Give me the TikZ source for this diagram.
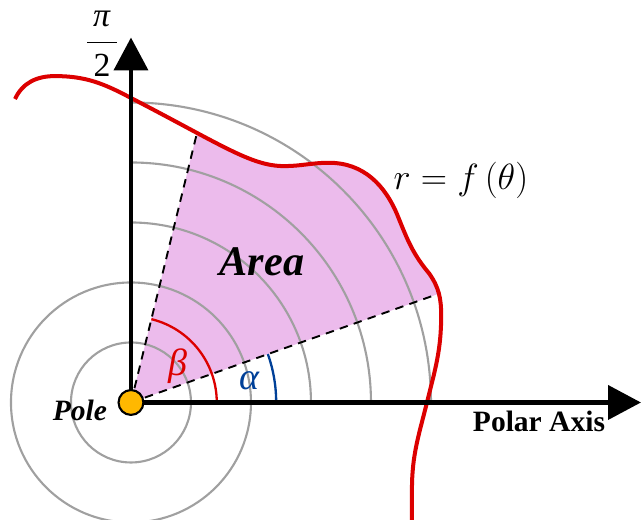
\documentclass[tikz,border=0pt]{standalone}
\usepackage{fontspec}
\setmainfont{Liberation Serif}
\usepackage{tikz}
\definecolor{curvered}{RGB}{220, 0, 0}
\definecolor{arcblue}{RGB}{0, 64, 152}
\definecolor{ringgray}{RGB}{160, 160, 160}
\definecolor{areapink}{RGB}{236, 187, 236}
\definecolor{polegold}{RGB}{255, 184, 0}
\usetikzlibrary{arrows.meta, calc, intersections}
\newcommand{\curvepath}{(-1.933,5.058) to[out=65, in=180] (-1.27,5.44) to[out=0, in=152] (0,5.075)
    .. controls (1.5,4.3) and (2.0,3.94) .. (2.55,3.94)
    to[out=0, in=180] (3.3,3.995) to[out=0, in=112] (4.45,3.1)
    to[out=-68, in=130] (4.97,2.15) to[out=-55, in=90] (5.17,1.45)
    to[out=-90, in=76] (4.933,0) to[out=-104, in=90] (4.683,-1.45) -- (4.683,-2.1)}

\begin{document}
\begin{tikzpicture}[
    axis/.style={line width=2.2pt, -{Triangle[length=15.6pt, width=16pt]}},
    ringline/.style={draw=ringgray, line width=1pt},
    ray/.style={dash pattern=on 4pt off 3pt, line width=0.9pt},
    tag/.style={inner sep=0pt, font=\fontsize{#1}{#1}\selectfont}
]
    \useasboundingbox (-2.183,-1.942) rectangle (8.517,6.708);

    % Points
    \coordinate (O) at (0,0);
    \coordinate (xend) at (8.5,0);
    \coordinate (yend) at (0,6.083);
    \path[name path=curve] \curvepath;
    \path[name path=raya] (O) -- (19.46:7);
    \path[name path=rayb] (O) -- (76.24:7);
    \path[name intersections={of=curve and raya, by=A}];
    \path[name intersections={of=curve and rayb, by=B}];

    % Area
    \begin{scope}
        \clip (O) -- (76.24:8) -- (19.46:8) -- cycle;
        \fill[areapink] (-3,-3) -- (-3,5.058) -- \curvepath -- (4.683,-3) -- cycle;
    \end{scope}

    % Rings
    \foreach \r in {1,2}
        \draw[ringline] (O) circle (\r);
    \foreach \r in {3,4,5}
        \draw[ringline] (\r,0) arc (0:90:\r);

    % Rays and angles
    \draw[ray] (O) -- (A);
    \draw[ray] (O) -- (B);
    \draw[arcblue, line width=1.1pt] (2.42,0) arc (0:19.46:2.42);
    \draw[curvered, line width=1.1pt] (1.43,0) arc (0:76.24:1.43);

    % Curve
    \draw[curvered, line width=1.9pt] \curvepath;

    % Axes
    \draw[axis] (O) -- (xend);
    \draw[axis] (O) -- (yend);

    % Pole
    \node[circle, draw, line width=1pt, fill=polegold, minimum size=11.8pt, inner sep=0pt] (pole) at (O) {};

    % Labels
    \node[tag=16] (halfpi) at (-0.483,5.983) {$\displaystyle\frac{\makebox[14pt]{\textit{π}}}{\textrm{2}}$};
    \node[tag=14] (polelbl) at (-0.85,-0.125) {\textbf{\textit{Pole}}};
    \node[tag=20] (arealbl) at (2.183,2.342) {\textbf{\textit{Area}}};
    \node[tag=17] (curvelbl) at (5.5,3.708) {$r=f\left(\theta\right)$};
    \node[tag=14] (axislbl) at (6.8,-0.308) {\textbf{Polar Axis}};
    \node[tag=18, text=curvered] (betalbl) at (0.783,0.608) {\textit{β}};
    \node[tag=18, text=arcblue] (alphalbl) at (1.983,0.358) {\textit{α}};
\end{tikzpicture}
\end{document}
